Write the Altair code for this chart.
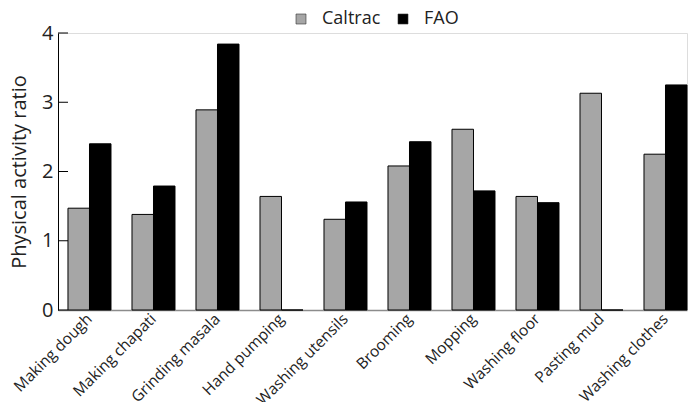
import altair as alt
import pandas as pd

# Activities and physical activity ratios by method
categories = [
    "Making dough", "Making chapati", "Grinding masala", "Hand pumping",
    "Washing utensils", "Brooming", "Mopping", "Washing floor",
    "Pasting mud", "Washing clothes",
]
caltrac = [1.47, 1.38, 2.89, 1.64, 1.31, 2.08, 2.61, 1.64, 3.13, 2.25]
fao = [2.40, 1.79, 3.84, 0.0, 1.56, 2.43, 1.72, 1.55, 0.0, 3.25]
methods = ["Caltrac", "FAO"]
y_ticks = [0, 1, 2, 3, 4]

rows = []
for cat, c, f in zip(categories, caltrac, fao):
    rows.append({"activity": cat, "method": "Caltrac", "par": c})
    rows.append({"activity": cat, "method": "FAO", "par": f})
df = pd.DataFrame(rows)
ticks_df = pd.DataFrame({"v": y_ticks})

FONT = "Open Sans"
TEXT = "#222222"

bars = alt.Chart(df).mark_bar(stroke="black", strokeWidth=1).encode(
    x=alt.X(
        "activity:N",
        sort=categories,
        scale=alt.Scale(paddingInner=0.328, paddingOuter=0.078, align=1),
        axis=alt.Axis(
            title=None, ticks=False, labelAngle=-45, labelAlign="right",
            labelBaseline="middle", labelPadding=6, labelFontSize=15.5,
            labelFont=FONT, labelColor=TEXT, domainColor="#8c8c8c",
            domainWidth=1.5, labelLimit=200,
        ),
    ),
    xOffset=alt.XOffset("method:N", sort=methods,
                        scale=alt.Scale(paddingInner=0, paddingOuter=0)),
    y=alt.Y(
        "par:Q",
        scale=alt.Scale(domain=[0, 4], nice=False),
        axis=alt.Axis(
            title="Physical activity ratio", values=y_ticks, format="d",
            ticks=False, grid=False, labelFontSize=20, labelFont=FONT,
            labelColor=TEXT, labelPadding=5, titleFontSize=20,
            titleFont=FONT, titleFontWeight="normal", titleColor=TEXT,
            titlePadding=12, domainColor="black", domainWidth=1,
        ),
    ),
    color=alt.Color(
        "method:N", sort=methods,
        scale=alt.Scale(domain=methods, range=["#a6a6a6", "#000000"]),
        legend=alt.Legend(
            title=None, orient="none", direction="horizontal",
            legendX=234, legendY=-23, padding=0,
            symbolType="square", symbolSize=100, symbolStrokeColor="#333333",
            symbolStrokeWidth=0.6, symbolOpacity=1,
            labelFont=FONT, labelFontSize=18, labelColor=TEXT,
            labelOffset=12, columnPadding=13,
        ),
    ),
)

# Inward tick marks on the value axis
inner_ticks = alt.Chart(ticks_df).mark_rule(color="black", strokeWidth=1).encode(
    y=alt.Y("v:Q"),
    x=alt.value(0),
    x2=alt.value(10),
)

chart = alt.layer(bars, inner_ticks).properties(
    width=629,
    height=277,
    autosize=alt.AutoSizeParams(type="none"),
    padding={"left": 58, "top": 33, "right": 12, "bottom": 92},
).configure_view(stroke=None).configure(background="white")

chart.save("out.html", embed_options={"renderer": "svg", "actions": False})
